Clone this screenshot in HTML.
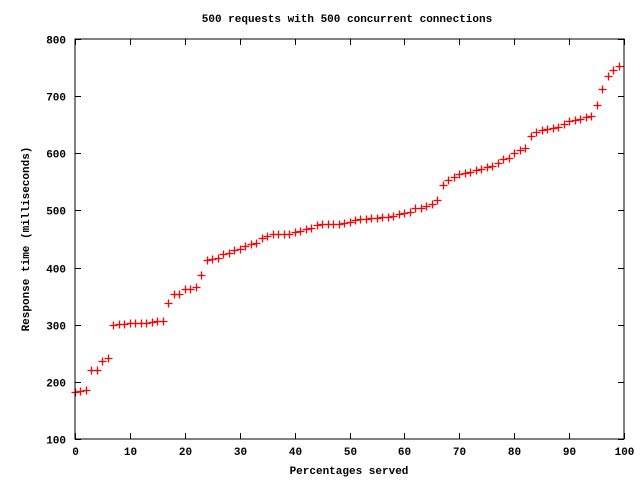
<!DOCTYPE html>
<html><head><meta charset="utf-8"><style>
body{margin:0;background:#fff}
svg text{font-family:"Liberation Mono",monospace;font-size:11px;font-weight:bold;fill:#000}
</style></head><body>
<svg id="chart" width="640" height="480" xmlns="http://www.w3.org/2000/svg">
<rect width="640" height="480" fill="#fff"/>
<text x="347" y="22" text-anchor="middle">500 requests with 500 concurrent connections</text>
<text x="349" y="474" text-anchor="middle">Percentages served</text>
<text transform="translate(29,239) rotate(-90)" text-anchor="middle">Response time (milliseconds)</text>
<g id="axes"></g>
<g id="points"></g>
<rect x="75" y="39" width="549" height="400" fill="none" stroke="#000" stroke-width="1"/>
</svg>
<script>
const xTicks=[0,10,20,30,40,50,60,70,80,90,100];
const yTicks=[100,200,300,400,500,600,700,800];
const percents=[];for(let i=0;i<100;i++)percents.push(i);
const times=[182,184,185,220,221,237,242,300,302,302,303,303,303,303,305,306,306,338,354,354,362,363,366,387,413,415,416,423,426,430,433,437,441,443,452,456,458,458,458,458,462,464,467,470,474,476,477,477,477,478,480,483,485,485,486,487,488,489,490,493,495,498,504,505,507,511,518,544,554,558,563,566,568,571,573,576,578,583,590,592,601,605,609,630,637,640,642,644,646,652,656,659,660,663,666,685,712,735,746,752];
const L=75,R=624,T=39,B=439;
const sx=v=>L+(v-0)/(100-0)*(R-L);
const sy=v=>B-(v-100)/(800-100)*(B-T);
const NS="http://www.w3.org/2000/svg";
const axes=document.getElementById('axes'),pts=document.getElementById('points');
function mk(tag,attrs,parent){const e=document.createElementNS(NS,tag);for(const k in attrs)e.setAttribute(k,attrs[k]);parent.appendChild(e);return e;}
xTicks.forEach(v=>{const x=Math.round(sx(v))+0.5;
mk('path',{d:`M${x},${B}v-6M${x},${T}v6`,stroke:'#000'},axes);
const t=mk('text',{x:x,y:B+16,'text-anchor':'middle'},axes);t.textContent=v;

});
yTicks.forEach(v=>{const y=Math.round(sy(v))+0.5;
mk('path',{d:`M${L},${y}h6M${R},${y}h-6`,stroke:'#000'},axes);
const t=mk('text',{x:L-9,y:y+4,'text-anchor':'end'},axes);t.textContent=v;

});
percents.forEach((p,i)=>{const x=Math.round(sx(p))+0.5,y=Math.round(sy(times[i]))+0.5;
const e=mk('path',{d:`M${x-4},${y}h8M${x},${y-4}v8`,stroke:'#f00','stroke-width':1.3},pts);

});
</script>
</body></html>
